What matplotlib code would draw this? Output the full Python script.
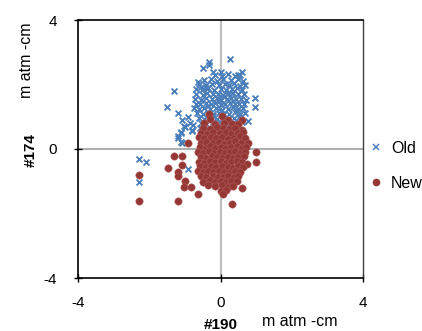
import matplotlib
matplotlib.use("Agg")
import matplotlib.pyplot as plt
from matplotlib.lines import Line2D

# ---------------- data ----------------
old_x = [
    -2.29, -2.10, -2.29, -1.20, -1.12, -1.09, -0.92, -1.00, -0.87, -0.81,
    0.28, -0.31, -0.31, -0.50, -0.22, 0.00, 0.59, 0.48, -0.62, -1.31,
    -1.51, 0.98, 0.98, 0.78, -1.20, -1.09, -1.03, -0.81, -1.12, -1.20,
    -1.12, -0.92, -0.78,
    -0.15, 0.05, 0.20, 0.42, 0.55,
    -0.45, -0.28, -0.10, 0.08, 0.30, 0.50, 0.62,
    -0.60, -0.42, -0.25, -0.05, 0.12, 0.25, 0.38, 0.55, 0.70,
    -0.70, -0.52, -0.35, -0.18, 0.00, 0.15, 0.32, 0.45, 0.60,
    -0.68, -0.50, -0.38, -0.20, -0.08, 0.06, 0.20, 0.35, 0.50, 0.66,
    -0.72, -0.55, -0.40, -0.25, -0.10, 0.02, 0.18, 0.30, 0.44, 0.58, 0.72,
    -0.70, -0.58, -0.42, -0.28, -0.15, 0.00, 0.12, 0.26, 0.40, 0.52, 0.65,
    -0.74, -0.60, -0.45, -0.30, -0.12, 0.05, 0.20, 0.35, 0.48, 0.62,
    -0.65, -0.50, -0.35, -0.20, -0.05, 0.10, 0.25, 0.40, 0.55, 0.70,
    -0.60, -0.45, -0.30, -0.10, 0.08, 0.22, 0.38, 0.52,
    -0.55, -0.40, -0.20, 0.00, 0.15, 0.30, 0.45, 0.60,
    -0.58, -0.35, -0.15, 0.10, 0.28, 0.50,
    -0.50, -0.30, 0.05, 0.40,
    -0.05, 0.10, -0.35, 0.25, -0.55, 0.45, -0.20, 0.35, 0.00, -0.40,
]
old_y = [
    -0.31, -0.40, -1.02, 0.40, 0.50, 0.19, -0.62, 0.68, 0.81, 0.59,
    2.79, 2.70, 2.60, 2.51, 2.39, 2.39, 2.39, 2.29, 2.08, 1.80,
    1.30, 1.58, 1.30, 0.87, 1.12, 0.90, 0.71, 0.56, 0.53, 0.34,
    0.22, 0.99, 0.74,
    2.31, 2.27, 2.33, 2.26, 2.30,
    2.14, 2.18, 2.12, 2.17, 2.13, 2.16, 2.12,
    2.02, 1.98, 2.03, 1.97, 2.01, 1.99, 2.04, 1.96, 2.00,
    1.86, 1.83, 1.88, 1.84, 1.87, 1.82, 1.85, 1.89, 1.84,
    1.71, 1.68, 1.73, 1.69, 1.72, 1.67, 1.70, 1.74, 1.69, 1.71,
    1.56, 1.53, 1.58, 1.54, 1.57, 1.52, 1.55, 1.59, 1.54, 1.56, 1.53,
    1.41, 1.38, 1.43, 1.39, 1.42, 1.37, 1.40, 1.44, 1.39, 1.41, 1.38,
    1.26, 1.23, 1.28, 1.24, 1.27, 1.22, 1.25, 1.29, 1.24, 1.26,
    1.11, 1.08, 1.13, 1.09, 1.12, 1.07, 1.10, 1.14, 1.09, 1.11,
    0.96, 0.93, 0.98, 0.94, 0.97, 0.92, 0.95, 0.99,
    0.81, 0.78, 0.83, 0.79, 0.82, 0.77, 0.80, 0.84,
    0.66, 0.63, 0.68, 0.64, 0.67, 0.62,
    0.51, 0.48, 0.53, 0.49,
    1.48, 1.62, 1.33, 1.78, 1.92, 1.18, 1.02, 1.48, 1.18, 1.90,
]

new_x = [
    -0.31, 0.05,
    -0.30, 0.20, 0.59,
    -0.45, -0.15, 0.10, 0.33, 0.50,
    -0.50, -0.30, -0.10, 0.08, 0.25, 0.42, 0.59,
    -0.55, -0.38, -0.20, -0.02, 0.15, 0.30, 0.48, 0.62,
    -0.60, -0.45, -0.28, -0.12, 0.05, 0.20, 0.38, 0.55, 0.68,
    -0.90, -0.55, -0.40, -0.22, -0.05, 0.10, 0.27, 0.42, 0.58, 0.78,
    -0.58, -0.42, -0.30, -0.15, 0.00, 0.15, 0.30, 0.45, 0.60, 0.72,
    -0.62, -0.48, -0.32, -0.18, -0.02, 0.12, 0.28, 0.42, 0.55, 0.70, 1.00,
    -1.31, -1.09, -0.55, -0.40, -0.25, -0.10, 0.05, 0.20, 0.35, 0.50, 0.65,
    -1.09, -0.60, -0.45, -0.30, -0.15, 0.00, 0.15, 0.30, 0.45, 0.60, 0.75, 1.00,
    -1.48, -0.58, -0.42, -0.28, -0.12, 0.05, 0.20, 0.35, 0.50, 0.62,
    -1.20, -0.62, -0.50, -0.35, -0.20, -0.05, 0.10, 0.25, 0.40, 0.55,
    -2.29, -1.20, -0.55, -0.40, -0.22, -0.08, 0.08, 0.22, 0.38, 0.50,
    -1.00, -0.50, -0.30, -0.15, 0.00, 0.15, 0.30, 0.45,
    -1.03, -0.82, -0.35, -0.15, 0.05, 0.20, 0.35, 0.59,
    -0.62, 0.00, 0.15,
    0.08,
    -2.29, -1.20,
    0.31,
]
new_y = [
    1.09, 1.02,
    0.92, 0.90, 0.90,
    0.80, 0.78, 0.82, 0.79, 0.77,
    0.66, 0.63, 0.67, 0.64, 0.62, 0.66, 0.59,
    0.51, 0.48, 0.53, 0.49, 0.52, 0.47, 0.50, 0.54,
    0.36, 0.33, 0.38, 0.34, 0.37, 0.32, 0.35, 0.39, 0.34,
    0.19, 0.18, 0.23, 0.19, 0.22, 0.17, 0.20, 0.24, 0.19, 0.19,
    0.06, 0.03, 0.08, 0.04, 0.07, 0.02, 0.05, 0.09, 0.04, 0.06,
    -0.09, -0.12, -0.07, -0.11, -0.08, -0.13, -0.10, -0.06, -0.11, -0.09, -0.10,
    -0.22, -0.22, -0.24, -0.27, -0.23, -0.26, -0.28, -0.24, -0.27, -0.25, -0.23,
    -0.50, -0.39, -0.42, -0.37, -0.41, -0.38, -0.43, -0.40, -0.36, -0.41, -0.46, -0.40,
    -0.59, -0.54, -0.57, -0.53, -0.56, -0.52, -0.55, -0.58, -0.53, -0.56,
    -0.71, -0.69, -0.72, -0.68, -0.71, -0.67, -0.70, -0.73, -0.68, -0.71,
    -0.81, -0.85, -0.84, -0.87, -0.83, -0.86, -0.88, -0.84, -0.87, -0.85,
    -0.98, -1.01, -0.97, -1.02, -0.99, -1.03, -1.00, -0.98,
    -1.18, -1.18, -1.13, -1.16, -1.12, -1.17, -1.14, -1.21,
    -1.40, -1.30, -1.28,
    -1.40,
    -1.61, -1.61,
    -1.70,
]

series_names = ["Old", "New"]
ticks = [-4, 0, 4]

# ---------------- figure ----------------
W, H = 422, 331
plt.rcParams['font.family'] = ['Liberation Sans', 'DejaVu Sans']
plt.rcParams['axes.unicode_minus'] = False
fig = plt.figure(figsize=(W / 100, H / 100), dpi=100)

ax = fig.add_axes([78 / W, 1 - 278 / H, (363 - 78) / W, (278 - 20) / H])
ax.set_xlim(-4, 4)
ax.set_ylim(-4, 4)

blue = '#4A7EBB'
red = '#953735'

ax.axhline(0, color='#A0A0A0', lw=1.2, zorder=1)
ax.axvline(0, color='#BFBFBF', lw=1.6, zorder=1)

ax.scatter(old_x, old_y, marker='x', s=18, color=blue, linewidths=1.3, zorder=3)
ax.scatter(new_x, new_y, marker='o', s=28, color=red, edgecolors='#B0605E',
           linewidths=0.4, zorder=4)

for sp in ax.spines.values():
    sp.set_color('black')
    sp.set_linewidth(1.2)
ax.spines['right'].set_color('#404040')
ax.spines['right'].set_linewidth(1.0)

ax.set_xticks(ticks)
ax.set_yticks(ticks)
ax.tick_params(direction='inout', length=6, width=1, labelsize=11, color='black')
ax.tick_params(axis='x', pad=10)
ax.tick_params(axis='y', pad=12)

# axis labels
fig.text(221 / W, 1 - 325 / H, "#190", fontsize=11, fontweight='bold',
         ha='center', va='center')
fig.text(300 / W, 1 - 321 / H, "m atm -cm", fontsize=11.5,
         ha='center', va='center')
fig.text(31 / W, 1 - 150 / H, "#174", fontsize=11, fontweight='bold',
         ha='center', va='center', rotation=90)
fig.text(27 / W, 1 - 60 / H, "m atm -cm", fontsize=11.5,
         ha='center', va='center', rotation=90)

handles = [
    Line2D([], [], marker='x', linestyle='none', color=blue, markersize=4, markeredgewidth=1.1),
    Line2D([], [], marker='o', linestyle='none', color=red, markersize=4.5),
]
fig.legend(handles, series_names, loc='upper left',
           bbox_to_anchor=(370 / W, 1 - 141 / H), frameon=False,
           fontsize=11.5, handlelength=0.8, handletextpad=0.5,
           labelspacing=1.25, borderaxespad=0, borderpad=0)

fig.savefig("out.png", dpi=100)
